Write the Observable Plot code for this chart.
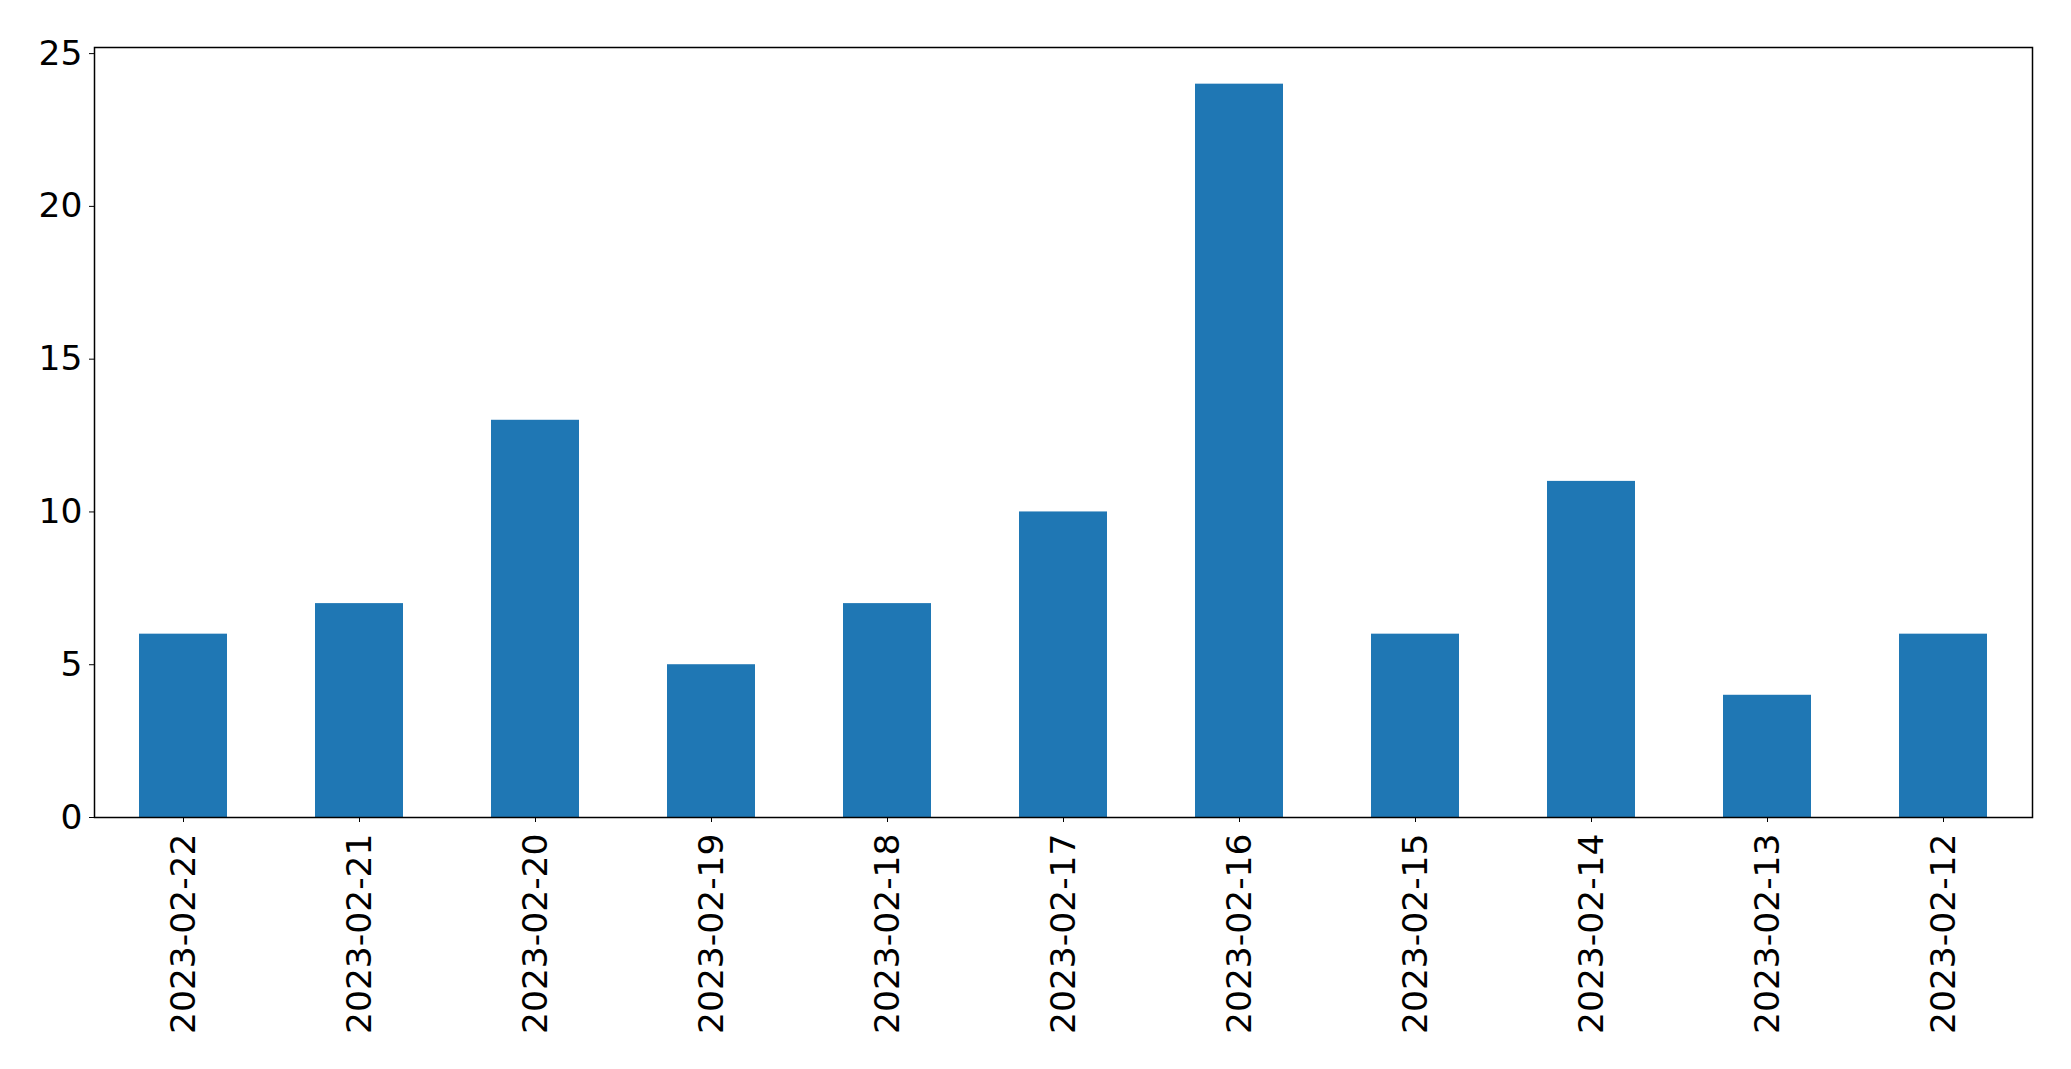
<!DOCTYPE html>
<html>
<head>
<meta charset="utf-8">
<script src="https://cdn.jsdelivr.net/npm/d3@7"></script>
<script src="https://cdn.jsdelivr.net/npm/@observablehq/plot@0.6"></script>
<style>
  html, body { margin: 0; padding: 0; background: #fff; }
  #chart svg { display: block; }
</style>
</head>
<body>
<div id="chart"></div>
<script>
const dates = ["2023-02-22","2023-02-21","2023-02-20","2023-02-19","2023-02-18","2023-02-17","2023-02-16","2023-02-15","2023-02-14","2023-02-13","2023-02-12"];
const counts = [6, 7, 13, 5, 7, 10, 24, 6, 11, 4, 6];
const yTicks = [0, 5, 10, 15, 20, 25];

const data = dates.map((d, i) => ({date: d, count: counts[i]}));

const chart = Plot.plot({
  width: 2071,
  height: 1069,
  marginLeft: 94,
  marginRight: 39,
  marginTop: 47,
  marginBottom: 252,
  style: {fontFamily: "DejaVu Sans", fontSize: "34.5px", color: "#000", background: "#fff"},
  x: {type: "band", domain: dates, paddingInner: 0.5, paddingOuter: 0.25, label: null},
  y: {domain: [0, 25.2], label: null},
  marks: [
    Plot.barY(data, {x: "date", y: "count", fill: "#1f77b4"}),
    Plot.frame({stroke: "#000", strokeWidth: 1.5}),
    Plot.axisX({tickRotate: -90, tickSize: 5, tickPadding: 11, fontSize: 34.5, label: null, stroke: "#000"}),
    Plot.axisY({ticks: yTicks, tickSize: 5, tickPadding: 7, fontSize: 34.5, label: null, stroke: "#000"})
  ]
});
document.getElementById("chart").appendChild(chart);
</script>
</body>
</html>
